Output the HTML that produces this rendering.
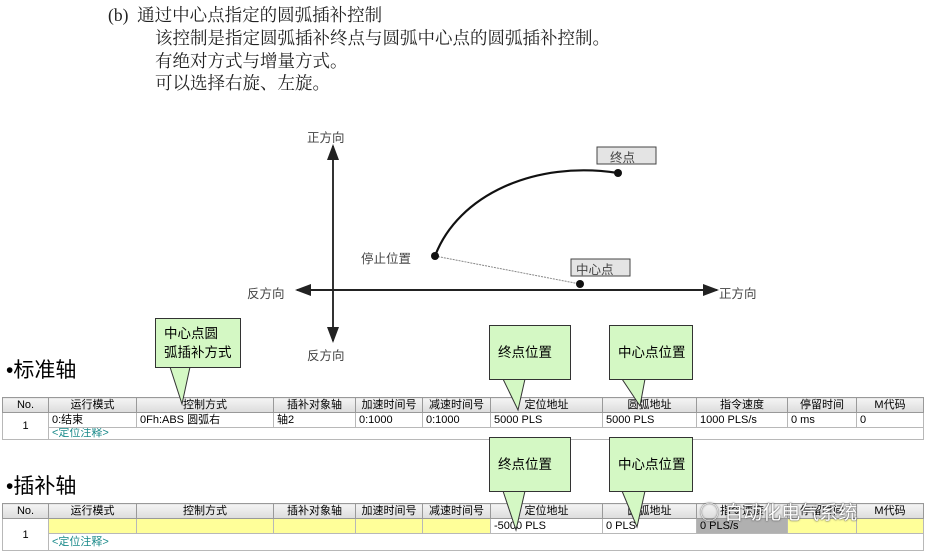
<!DOCTYPE html>
<html><head><meta charset="utf-8"><style>
body{margin:0;width:925px;height:551px;background:#fff;position:relative;overflow:hidden;font-family:"Liberation Sans","Noto Sans CJK SC",sans-serif}
.a{position:absolute;white-space:nowrap}
.t{position:absolute;left:108px;font-family:"Liberation Serif","Noto Serif CJK SC",serif;font-size:17.5px;color:#222;line-height:22px}
table{position:absolute;left:2px;width:922px;border-collapse:collapse;font-size:11px;table-layout:fixed}
td{border:1px solid #b8b8b8;padding:0 3px;height:14px;line-height:14px;overflow:hidden;white-space:nowrap}
tr.h td{background:linear-gradient(#f4f4f4,#dcdcdc);text-align:center;border-color:#999}
.c{color:#1a8a8a}
.y{background:#ffff99}
.g{background:#b0b0b0}
.co{position:absolute;background:#d4f8c4;border:1px solid #333;font-size:13.5px;padding:0 8px;box-sizing:border-box;line-height:20px;white-space:nowrap;display:flex;align-items:center}
.lb{font-size:12.5px;color:#444}
</style></head><body>
<div class="t" style="top:4px">(b)&nbsp; 通过中心点指定的圆弧插补控制</div>
<div class="t" style="top:27px;left:155px">该控制是指定圆弧插补终点与圆弧中心点的圆弧插补控制。</div>
<div class="t" style="top:50px;left:155px">有绝对方式与增量方式。</div>
<div class="t" style="top:72px;left:155px">可以选择右旋、左旋。</div>

<svg class="a" style="left:0;top:0" width="925" height="551">
<defs><marker id="m" markerWidth="8" markerHeight="8" refX="7" refY="4" orient="auto"><path d="M0,1 L8,4 L0,7z" fill="#222"/></marker></defs>
<line x1="333" y1="290" x2="333" y2="146" stroke="#333" stroke-width="2" marker-end="url(#m)"/>
<line x1="333" y1="290" x2="333" y2="341" stroke="#333" stroke-width="2" marker-end="url(#m)"/>
<line x1="330" y1="290" x2="297" y2="290" stroke="#222" stroke-width="2" marker-end="url(#m)"/>
<line x1="330" y1="290" x2="717" y2="290" stroke="#222" stroke-width="2" marker-end="url(#m)"/>
<path d="M435,256 C458,195 535,160 618,173" fill="none" stroke="#111" stroke-width="2.2"/>
<line x1="435" y1="256" x2="580" y2="284" stroke="#888" stroke-width="1" stroke-dasharray="2,1"/>
<circle cx="435" cy="256" r="4" fill="#111"/><circle cx="618" cy="173" r="4" fill="#111"/><circle cx="580" cy="284" r="4" fill="#111"/>
<rect x="597" y="147" width="59" height="17" fill="#e4e4e4" stroke="#444"/>
<rect x="571" y="259" width="59" height="17" fill="#e4e4e4" stroke="#444"/>
</svg>
<div class="a lb" style="left:307px;top:127px">正方向</div>
<div class="a lb" style="left:247px;top:283px">反方向</div>
<div class="a lb" style="left:719px;top:283px">正方向</div>
<div class="a lb" style="left:307px;top:345px">反方向</div>
<div class="a lb" style="left:361px;top:248px">停止位置</div>
<div class="a lb" style="left:610px;top:147px">终点</div>
<div class="a lb" style="left:576px;top:259px">中心点</div>

<div class="a" style="left:6px;top:354px;font-size:21px">•标准轴</div>
<div class="a" style="left:6px;top:470px;font-size:21px">•插补轴</div>

<table style="top:397px">
<colgroup><col style="width:46px"><col style="width:88px"><col style="width:137px"><col style="width:82px"><col style="width:67px"><col style="width:68px"><col style="width:112px"><col style="width:94px"><col style="width:91px"><col style="width:69px"><col></colgroup>
<tr class="h"><td>No.</td><td>运行模式</td><td>控制方式</td><td>插补对象轴</td><td>加速时间号</td><td>减速时间号</td><td>定位地址</td><td>圆弧地址</td><td>指令速度</td><td>停留时间</td><td>M代码</td></tr>
<tr><td rowspan="2" style="text-align:center">1</td><td>0:结束</td><td>0Fh:ABS 圆弧右</td><td>轴2</td><td>0:1000</td><td>0:1000</td><td>5000 PLS</td><td>5000 PLS</td><td>1000 PLS/s</td><td>0 ms</td><td>0</td></tr>
<tr><td colspan="10" class="c" style="height:11px;line-height:11px">&lt;定位注释&gt;</td></tr>
</table>

<table style="top:503px">
<colgroup><col style="width:46px"><col style="width:88px"><col style="width:137px"><col style="width:82px"><col style="width:67px"><col style="width:68px"><col style="width:112px"><col style="width:94px"><col style="width:91px"><col style="width:69px"><col></colgroup>
<tr class="h"><td>No.</td><td>运行模式</td><td>控制方式</td><td>插补对象轴</td><td>加速时间号</td><td>减速时间号</td><td>定位地址</td><td>圆弧地址</td><td>指令速度</td><td>停留时间</td><td>M代码</td></tr>
<tr><td rowspan="2" style="text-align:center">1</td><td class="y"></td><td class="y"></td><td class="y"></td><td class="y"></td><td class="y"></td><td>-5000 PLS</td><td>0 PLS</td><td class="g">0 PLS/s</td><td class="y"></td><td class="y"></td></tr>
<tr><td colspan="10" class="c" style="height:16px">&lt;定位注释&gt;</td></tr>
</table>

<svg class="a" style="left:0;top:0" width="925" height="551">
<g fill="#d4f8c4" stroke="#333" stroke-width="1">
<path d="M170,367 L182,404 L190,367"/>
<path d="M503,379 L518,410 L525,379"/>
<path d="M622,379 L640,406 L645,379"/>
<path d="M503,491 L516,530 L525,491"/>
<path d="M622,491 L637,527 L645,491"/>
</g>
</svg>
<div class="co" style="left:155px;top:318px;width:86px;height:50px;padding:0 8px;line-height:19px">中心点圆<br>弧插补方式</div>
<div class="co" style="left:489px;top:325px;width:82px;height:55px">终点位置</div>
<div class="co" style="left:609px;top:325px;width:84px;height:55px">中心点位置</div>
<div class="co" style="left:489px;top:437px;width:82px;height:55px">终点位置</div>
<div class="co" style="left:609px;top:437px;width:84px;height:55px">中心点位置</div>
<div class="a" style="left:700px;top:498px;font-size:19px;color:#fff;text-shadow:0 0 2px #555,0 0 1px #333">◯ 自动化电气系统</div>
</body></html>
